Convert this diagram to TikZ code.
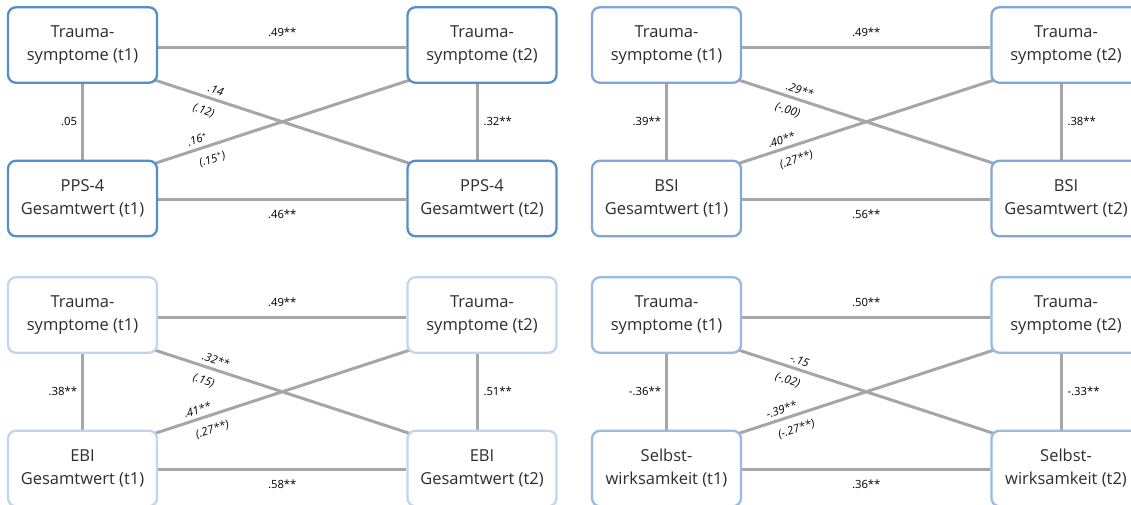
\documentclass[tikz,border=0pt]{standalone}
\usepackage{fontspec}
\setmainfont{Open Sans}
\usetikzlibrary{backgrounds,calc}
\definecolor{linegray}{RGB}{166,166,166}
\definecolor{bluea}{RGB}{84,143,201}
\definecolor{blueb}{RGB}{128,167,216}
\definecolor{bluec}{RGB}{194,213,238}
\definecolor{blued}{RGB}{152,186,227}
\definecolor{txt}{RGB}{45,45,45}
\newcommand\myboxfont{\fontsize{16.5}{23}\selectfont}
\newcommand\mylabfont{\fontsize{11.3}{12}\selectfont}
\tikzset{
  box/.style={draw=#1, line width=2.3pt, rounded corners=8pt, fill=white,
    minimum width=149pt, minimum height=75.5pt, inner sep=0pt, align=center,
    font=\myboxfont, text=txt},
  link/.style={draw=linegray, line width=3pt},
  lab/.style={font=\mylabfont, inner sep=2pt, text=black},
  dlab/.style={font=\mylabfont\itshape, sloped, inner sep=1.5pt, text=black},
}
\begin{document}
\begin{tikzpicture}[x=1pt,y=-1pt]
\useasboundingbox (0,0) rectangle (1131,504);
\clip (0,0) rectangle (1131,504);

% ---------- Panel 1 ----------
\node[box=bluea] (A1) at (82.5,45) {Trauma-\\symptome (t1)};
\node[box=bluea] (B1) at (482,45) {Trauma-\\symptome (t2)};
\node[box=bluea] (C1) at (82.5,198.5) {PPS-4\\Gesamtwert (t1)};
\node[box=bluea] (D1) at (482,198.5) {PPS-4\\Gesamtwert (t2)};
\begin{scope}[on background layer]
\draw[link] ([yshift=-2pt]A1.east) -- node[lab,above=7pt]{.49**} ([yshift=-2pt]B1.west);
\draw[link] ([yshift=-1pt]C1.east) -- node[lab,below=7pt]{.46**} ([yshift=-1pt]D1.west);
\draw[link] (A1.south) -- node[lab,left=2pt]{.05} (C1.north);
\draw[link] ([xshift=-5pt]B1.south) -- node[lab,right=3pt]{.32**} ([xshift=-5pt]D1.north);
\draw[link] ([shift={(-4pt,4pt)}]A1.south east) -- node[dlab,pos=0.23,above=2pt]{.14} node[dlab,pos=0.21,below=6pt]{(.12)} ([shift={(4pt,-4pt)}]D1.north west);
\draw[link] ([shift={(-4pt,-4pt)}]C1.north east) -- node[dlab,pos=0.18,above=2pt]{.16\textsuperscript{+}} node[dlab,pos=0.21,below=6pt]{(.15\textsuperscript{+})} ([shift={(4pt,4pt)}]B1.south west);
\end{scope}

% ---------- Panel 2 ----------
\begin{scope}[shift={(584,0)}]
\node[box=blueb] (A2) at (82.5,45) {Trauma-\\symptome (t1)};
\node[box=blueb] (B2) at (482,45) {Trauma-\\symptome (t2)};
\node[box=blueb] (C2) at (82.5,198.5) {BSI\\Gesamtwert (t1)};
\node[box=blueb] (D2) at (482,198.5) {BSI\\Gesamtwert (t2)};
\begin{scope}[on background layer]
\draw[link] ([yshift=-2pt]A2.east) -- node[lab,above=7pt]{.49**} ([yshift=-2pt]B2.west);
\draw[link] ([yshift=-1pt]C2.east) -- node[lab,below=7pt]{.56**} ([yshift=-1pt]D2.west);
\draw[link] (A2.south) -- node[lab,left=2pt]{.39**} (C2.north);
\draw[link] ([xshift=-5pt]B2.south) -- node[lab,right=3pt]{.38**} ([xshift=-5pt]D2.north);
\draw[link] ([shift={(-4pt,4pt)}]A2.south east) -- node[dlab,pos=0.23,above=2pt]{.29**} node[dlab,pos=0.21,below=6pt]{(-.00)} ([shift={(4pt,-4pt)}]D2.north west);
\draw[link] ([shift={(-4pt,-4pt)}]C2.north east) -- node[dlab,pos=0.18,above=2pt]{.40**} node[dlab,pos=0.21,below=6pt]{(.27**)} ([shift={(4pt,4pt)}]B2.south west);
\end{scope}
\end{scope}

% ---------- Panel 3 ----------
\begin{scope}[shift={(0,270)}]
\node[box=bluec] (A3) at (82.5,45) {Trauma-\\symptome (t1)};
\node[box=bluec] (B3) at (482,45) {Trauma-\\symptome (t2)};
\node[box=bluec] (C3) at (82.5,198.5) {EBI\\Gesamtwert (t1)};
\node[box=bluec] (D3) at (482,198.5) {EBI\\Gesamtwert (t2)};
\begin{scope}[on background layer]
\draw[link] ([yshift=-2pt]A3.east) -- node[lab,above=7pt]{.49**} ([yshift=-2pt]B3.west);
\draw[link] ([yshift=-1pt]C3.east) -- node[lab,below=7pt]{.58**} ([yshift=-1pt]D3.west);
\draw[link] (A3.south) -- node[lab,left=2pt]{.38**} (C3.north);
\draw[link] ([xshift=-5pt]B3.south) -- node[lab,right=3pt]{.51**} ([xshift=-5pt]D3.north);
\draw[link] ([shift={(-4pt,4pt)}]A3.south east) -- node[dlab,pos=0.23,above=2pt]{.32**} node[dlab,pos=0.21,below=6pt]{(.15)} ([shift={(4pt,-4pt)}]D3.north west);
\draw[link] ([shift={(-4pt,-4pt)}]C3.north east) -- node[dlab,pos=0.18,above=2pt]{.41**} node[dlab,pos=0.21,below=6pt]{(.27**)} ([shift={(4pt,4pt)}]B3.south west);
\end{scope}
\end{scope}

% ---------- Panel 4 ----------
\begin{scope}[shift={(584,270)}]
\node[box=blued] (A4) at (82.5,45) {Trauma-\\symptome (t1)};
\node[box=blued] (B4) at (482,45) {Trauma-\\symptome (t2)};
\node[box=blued] (C4) at (82.5,198.5) {Selbst-\\wirksamkeit (t1)};
\node[box=blued] (D4) at (482,198.5) {Selbst-\\wirksamkeit (t2)};
\begin{scope}[on background layer]
\draw[link] ([yshift=-2pt]A4.east) -- node[lab,above=7pt]{.50**} ([yshift=-2pt]B4.west);
\draw[link] ([yshift=-1pt]C4.east) -- node[lab,below=7pt]{.36**} ([yshift=-1pt]D4.west);
\draw[link] (A4.south) -- node[lab,left=2pt]{-.36**} (C4.north);
\draw[link] ([xshift=-5pt]B4.south) -- node[lab,right=3pt]{-.33**} ([xshift=-5pt]D4.north);
\draw[link] ([shift={(-4pt,4pt)}]A4.south east) -- node[dlab,pos=0.23,above=2pt]{-.15} node[dlab,pos=0.21,below=6pt]{(-.02)} ([shift={(4pt,-4pt)}]D4.north west);
\draw[link] ([shift={(-4pt,-4pt)}]C4.north east) -- node[dlab,pos=0.18,above=2pt]{-.39**} node[dlab,pos=0.21,below=6pt]{(-.27**)} ([shift={(4pt,4pt)}]B4.south west);
\end{scope}
\end{scope}
\end{tikzpicture}
\end{document}
